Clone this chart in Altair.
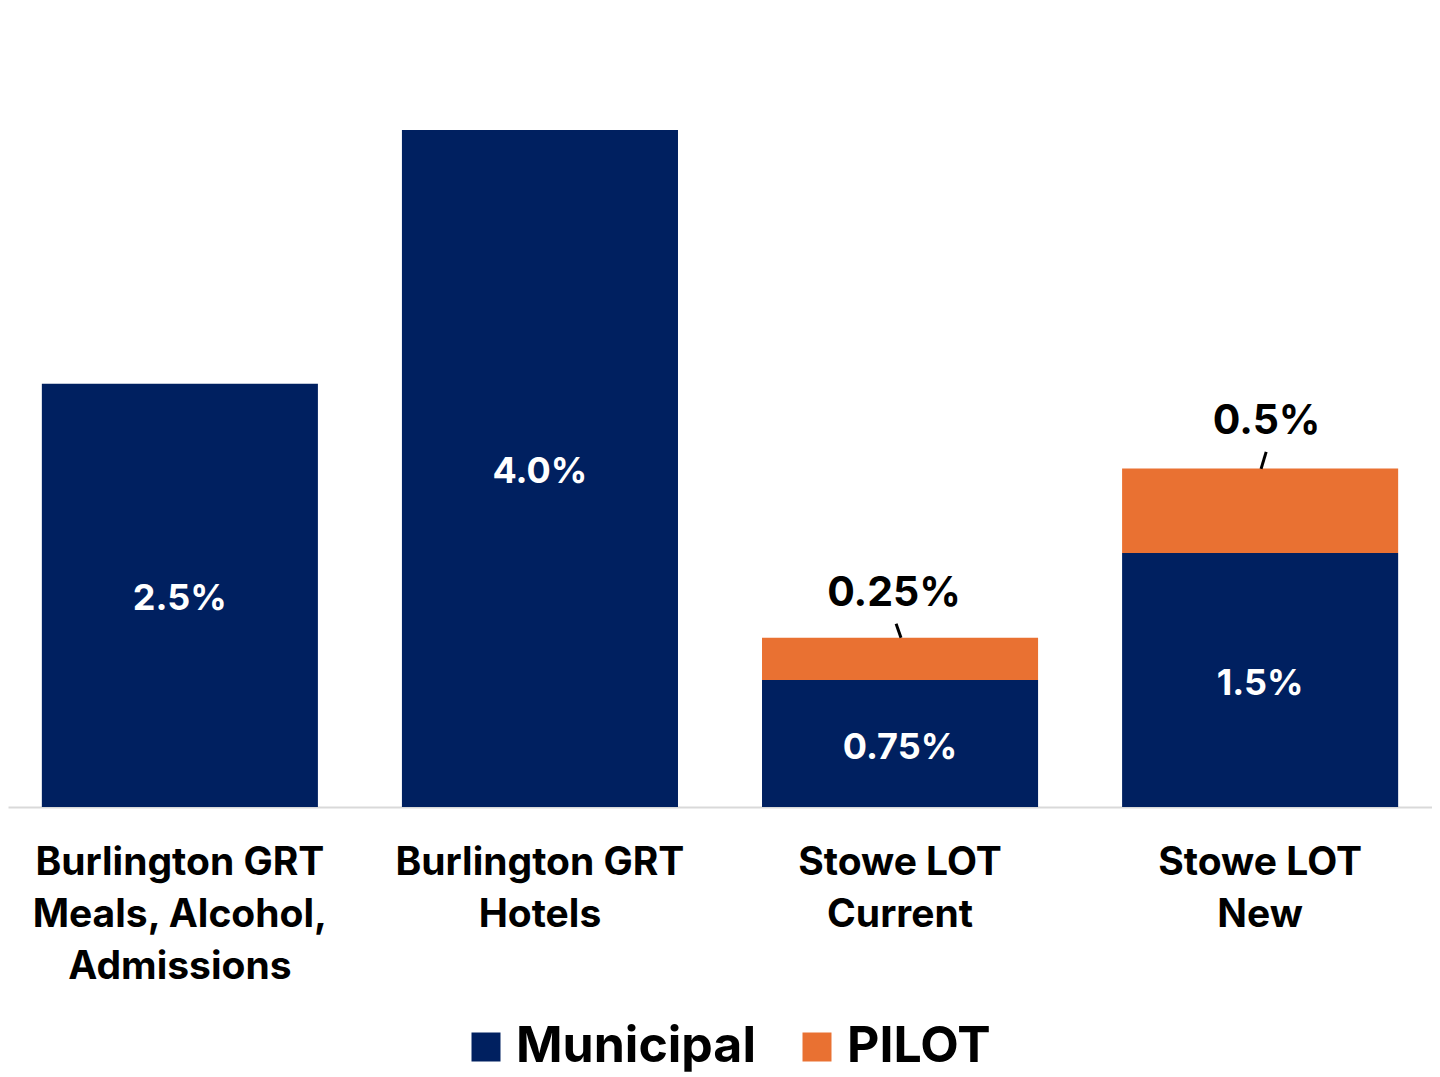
import altair as alt
import pandas as pd

categories = [
    "Burlington GRT\nMeals, Alcohol,\nAdmissions",
    "Burlington GRT\nHotels",
    "Stowe LOT\nCurrent",
    "Stowe LOT\nNew",
]
municipal = [2.5, 4.0, 0.75, 1.5]
pilot = [0.0, 0.0, 0.25, 0.5]
municipal_labels = ["2.5%", "4.0%", "0.75%", "1.5%"]
pilot_labels = ["", "", "0.25%", "0.5%"]
series = ["Municipal", "PILOT"]
colors = ["#002060", "#E97132"]

FONT = "Inter"

long_rows = []
for c, m, p in zip(categories, municipal, pilot):
    long_rows.append({"cat": c, "series": "Municipal", "value": m, "order": 0})
    long_rows.append({"cat": c, "series": "PILOT", "value": p, "order": 1})
long_df = pd.DataFrame(long_rows)

wide_df = pd.DataFrame({
    "cat": categories,
    "mid": [m / 2 for m in municipal],
    "total": [m + p for m, p in zip(municipal, pilot)],
    "mlabel": municipal_labels,
    "plabel": pilot_labels,
})

x_enc = alt.X(
    "cat:N",
    sort=categories,
    scale=alt.Scale(paddingInner=84 / 360, paddingOuter=0.094, align=0.5),
    axis=alt.Axis(
        title=None,
        labelAngle=0,
        labelFont=FONT,
        labelFontSize=39,
        labelFontWeight="bold",
        labelColor="#000000",
        labelLineHeight=52,
        labelLimit=0,
        labelPadding=36,
        labelExpr="split(datum.label, '\\n')",
        ticks=False,
        domainColor="#D9D9D9",
        domainWidth=2,
        grid=False,
    ),
)
y_scale = alt.Scale(domain=[0, 4.72], nice=False)

bars = alt.Chart(long_df).mark_bar().encode(
    x=x_enc,
    y=alt.Y("value:Q", stack="zero", scale=y_scale, axis=None),
    color=alt.Color(
        "series:N",
        scale=alt.Scale(domain=series, range=colors),
        legend=alt.Legend(
            title=None,
            orient="none",
            legendX=453,
            legendY=1014,
            direction="horizontal",
            symbolType="square",
            symbolSize=841,
            symbolStrokeWidth=0,
            labelFont=FONT,
            labelFontSize=50,
            labelFontWeight="bold",
            labelColor="#000000",
            labelLimit=0,
            labelOffset=5,
            columnPadding=36,
        ),
    ),
    order=alt.Order("order:Q"),
)

mlab = alt.Chart(wide_df).mark_text(
    color="white", font=FONT, fontSize=36, fontWeight="bold", baseline="middle", dy=4
).encode(
    x=alt.X("cat:N", sort=categories),
    y=alt.Y("mid:Q", scale=y_scale),
    text="mlabel:N",
)

cur = wide_df[wide_df["plabel"] != ""]

plab1 = alt.Chart(cur.iloc[[0]]).mark_text(
    color="black", font=FONT, fontSize=41, fontWeight="bold", baseline="middle",
    dy=-44, dx=-6
).encode(
    x=alt.X("cat:N", sort=categories),
    y=alt.Y("total:Q", scale=y_scale),
    text="plabel:N",
)
plab2 = alt.Chart(cur.iloc[[1]]).mark_text(
    color="black", font=FONT, fontSize=41, fontWeight="bold", baseline="middle",
    dy=-46, dx=6.5
).encode(
    x=alt.X("cat:N", sort=categories),
    y=alt.Y("total:Q", scale=y_scale),
    text="plabel:N",
)

lead1 = alt.Chart(cur.iloc[[0]]).mark_point(
    shape="M -0.35 -1 L 0.35 1", size=196, filled=False, stroke="black",
    strokeWidth=3, yOffset=-7, xOffset=-1.5, opacity=1
).encode(
    x=alt.X("cat:N", sort=categories),
    y=alt.Y("total:Q", scale=y_scale),
)
lead2 = alt.Chart(cur.iloc[[1]]).mark_point(
    shape="M 0.3 -1 L -0.3 1", size=289, filled=False, stroke="black",
    strokeWidth=3, yOffset=-8, xOffset=3.5, opacity=1
).encode(
    x=alt.X("cat:N", sort=categories),
    y=alt.Y("total:Q", scale=y_scale),
)

chart = alt.layer(bars, mlab, plab1, plab2, lead1, lead2).properties(
    width=1424,
    height=799,
    padding={"left": 0, "top": 0, "right": 0, "bottom": 0},
).configure(background="white").configure_view(stroke=None)

chart.save("out.html", embed_options={"renderer": "svg", "actions": False})
